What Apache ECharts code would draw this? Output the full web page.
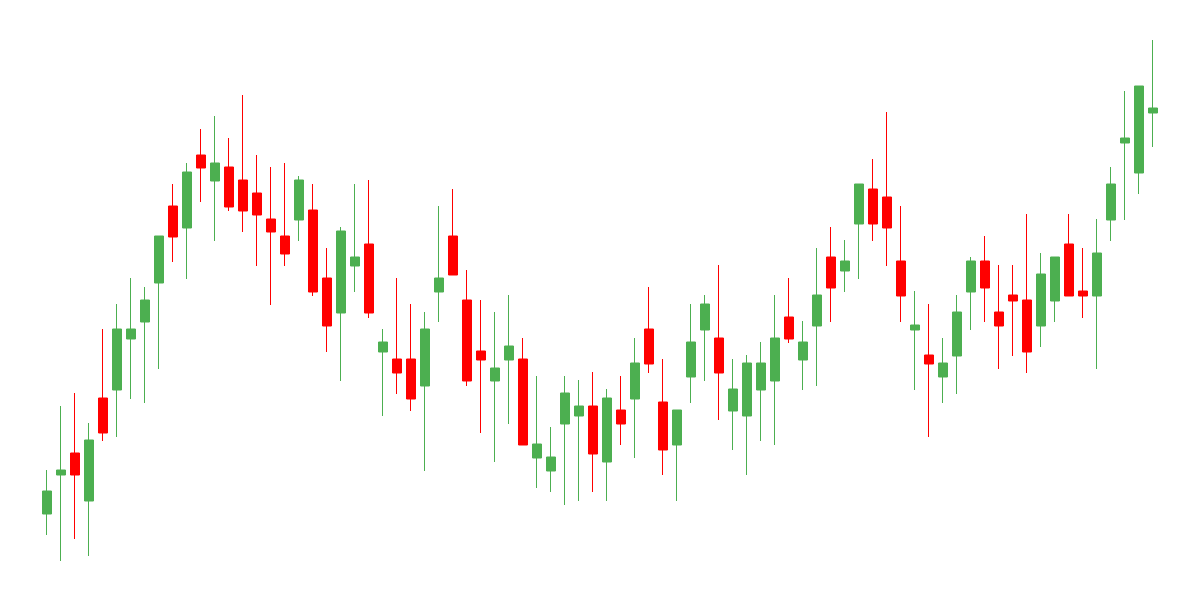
<!DOCTYPE html>
<html>
<head>
<meta charset="utf-8">
<script src="https://cdn.jsdelivr.net/npm/echarts@6/dist/echarts.min.js"></script>
<style>html,body{margin:0;padding:0;background:#fff}#c{width:1200px;height:600px}</style>
</head>
<body>
<div id="c"></div>
<script>
// Candle values (arbitrary price units): open, close, low, high
const opens  = [86,125,147,99,202,210,261,278,317,394,372,445,419,433,420,407,381,364,380,390,
                322,287,334,356,248,241,241,214,308,364,300,249,219,240,241,142,129,176,184,194,
                138,190,201,271,198,155,223,270,262,189,184,210,219,283,240,274,343,329,376,411,
                403,339,270,245,223,244,308,339,288,305,300,274,299,356,309,304,380,457,427,487];
const closes = [109,130,125,160,167,271,271,300,364,363,428,432,437,393,389,385,368,346,420,308,
                274,369,343,287,258,227,201,271,322,325,219,240,232,254,155,156,143,207,194,146,
                202,176,237,236,150,190,258,296,227,211,237,237,262,261,258,305,312,339,416,376,
                372,304,275,236,237,288,339,312,274,299,248,326,343,304,304,347,416,462,514,492];
const lows   = [65,39,61,44,159,163,201,197,231,338,321,398,359,389,368,334,295,334,359,304,
                248,219,308,282,184,206,189,129,278,325,214,167,138,176,155,112,108,95,99,108,
                99,155,142,227,125,99,197,219,180,150,125,159,155,257,210,214,278,308,321,359,
                334,278,210,163,197,206,270,278,231,244,227,253,278,304,282,231,359,380,406,453];
const highs  = [130,194,207,177,271,296,322,313,364,416,437,471,484,462,505,445,433,437,424,416,
                352,373,416,420,271,322,296,288,394,411,330,300,288,305,262,224,173,224,220,228,
                211,224,262,313,241,190,296,305,335,241,245,258,305,322,279,352,373,360,416,441,
                488,394,309,296,262,305,343,364,335,335,386,347,343,386,352,381,433,509,514,560];
const categories = opens.map((_, i) => 'D' + (i + 1));

const data = opens.map((o, i) => [o, closes[i], lows[i], highs[i]]);

const chart = echarts.init(document.getElementById('c'));
chart.setOption({
  animation: false,
  backgroundColor: '#ffffff',
  grid: { left: 40, right: 40, top: 0, bottom: 0 },
  xAxis: { type: 'category', data: categories, show: false, boundaryGap: true },
  yAxis: { type: 'value', min: 0, max: 600, show: false },
  series: [{
    type: 'candlestick',
    data: data,
    barWidth: 10,
    itemStyle: {
      color: '#4caf50',
      color0: '#ff0000',
      borderColor: '#4caf50',
      borderColor0: '#ff0000',
      borderWidth: 1
    }
  }]
});
</script>
</body>
</html>
